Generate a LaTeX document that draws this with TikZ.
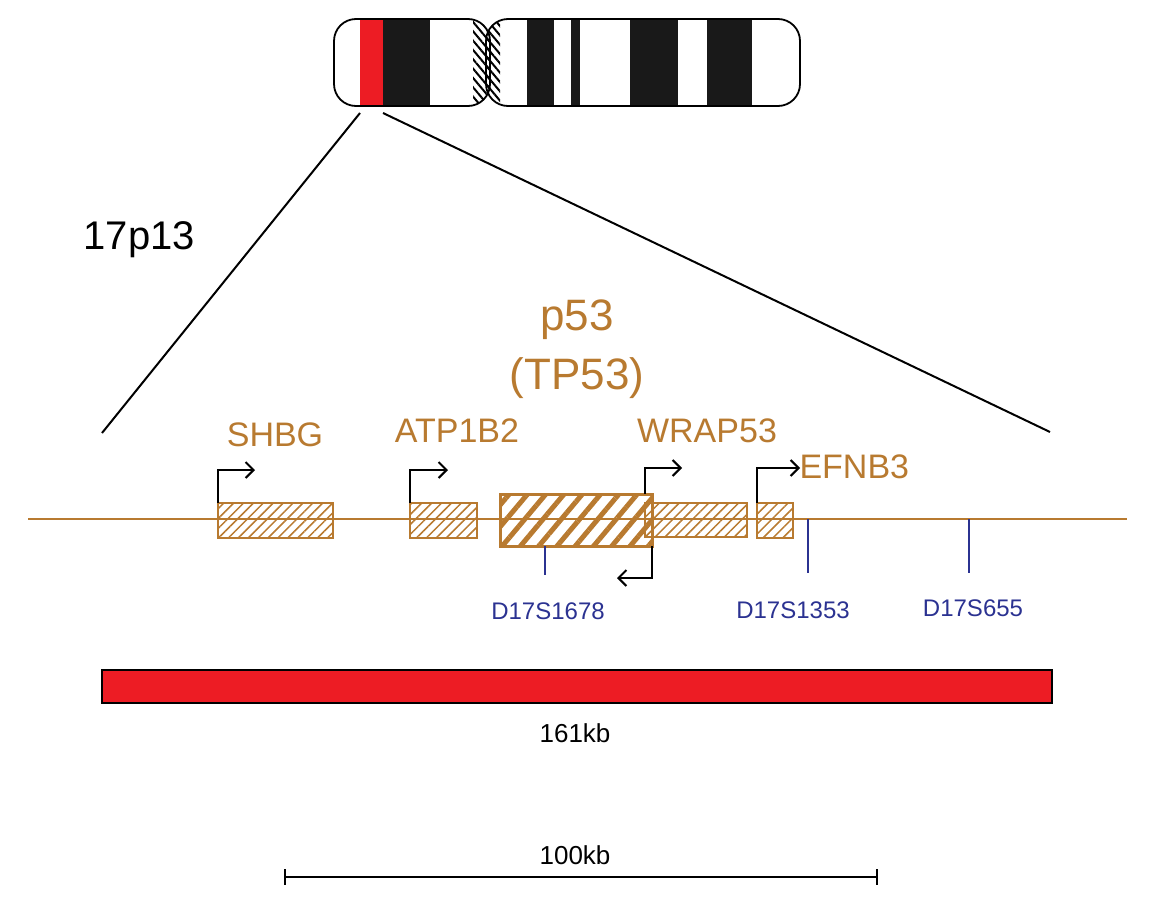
\documentclass[tikz,border=0pt]{standalone}
\usepackage{fontspec}
\setmainfont{Liberation Sans}
\usetikzlibrary{patterns.meta,arrows.meta}
\definecolor{gold}{HTML}{B87A30}
\definecolor{navy}{HTML}{2B3291}
\definecolor{cred}{HTML}{ED1C24}
\begin{document}
\begin{tikzpicture}[x=1pt,y=-1pt,
  gene/.style={draw=gold,line width=2.5pt,pattern={Lines[angle=45,distance=7pt,line width=1.5pt]},pattern color=gold},
  big/.style={draw=gold,line width=3pt,pattern={Lines[angle=50,distance=14pt,line width=5pt]},pattern color=gold},
  tss/.style={black,line width=2pt,-{Straight Barb[length=8pt,width=16pt]}},
  mk/.style={navy,line width=2pt},
  glab/.style={gold,font=\fontsize{34}{38}\selectfont},
  mlab/.style={navy,font=\fontsize{24}{28}\selectfont},
  klab/.style={black,font=\fontsize{26}{30}\selectfont}]
\useasboundingbox (0,0) rectangle (1150,905);
% chromosome
\begin{scope}
\clip[rounded corners=22pt] (334,19) rectangle (490,106);
\fill[cred] (360,19) rectangle (383,106);
\fill[black!90] (383,19) rectangle (430,106);
\fill[pattern={Lines[angle=-50,distance=6pt,line width=2pt]}] (473,19) rectangle (490,106);
\end{scope}
\draw[line width=1.8pt,rounded corners=22pt] (334,19) rectangle (490,106);
\begin{scope}
\clip[rounded corners=22pt] (486,19) rectangle (800,106);
\fill[pattern={Lines[angle=-50,distance=6pt,line width=2pt]}] (486,19) rectangle (500,106);
\fill[black!90] (527,19) rectangle (554,106);
\fill[black!90] (571,19) rectangle (580,106);
\fill[black!90] (630,19) rectangle (678,106);
\fill[black!90] (707,19) rectangle (752,106);
\end{scope}
\draw[line width=1.8pt,rounded corners=22pt] (486,19) rectangle (800,106);
\coordinate (zl) at (360,113); \coordinate (zr) at (383,113);
\coordinate (el) at (102,433); \coordinate (er) at (1050,432);
\draw[line width=2pt] (zl) -- (el);
\draw[line width=2pt] (zr) -- (er);
\node[klab,font=\fontsize{40}{44}\selectfont,anchor=west] (lab17) at (80,240) {17p13};
% gene line
\coordinate (g0) at (28,519); \coordinate (g1) at (1127,519);
\draw[gold,line width=2pt] (g0) -- (g1);
\path[gene] (218,503) rectangle (333,538);
\path[gene] (410,503) rectangle (477,538);
\path[gene] (645,503) rectangle (747,537);
\path[gene] (757,503) rectangle (793,538);
\path[big] (500,494) rectangle (652,546);
\draw[gold,line width=2.5pt] (645,503) rectangle (747,537);
% TSS arrows
\draw[tss] (218,503) |- (255,470);
\draw[tss] (410,503) |- (448,470);
\draw[tss] (645,494) |- (682,468);
\draw[tss] (757,503) |- (800,468);
\draw[tss] (652,546) |- (617,578);
% markers
\draw[mk] (545,546) -- (545,575);
\draw[mk] (808,519) -- (808,573);
\draw[mk] (969,519) -- (969,573);
\node[mlab] (m1) at (548,611) {D17S1678};
\node[mlab] (m2) at (793,610) {D17S1353};
\node[mlab] (m3) at (973,608) {D17S655};
% gene labels
\node[glab] (shbg) at (275,435) {SHBG};
\node[glab] (atp) at (457,431) {ATP1B2};
\node[glab] (wrap) at (707,431) {WRAP53};
\node[glab,anchor=west] (efn) at (796,467) {EFNB3};
\node[glab,font=\fontsize{44}{48}\selectfont] (p53) at (577,320) {p53};
\node[glab,font=\fontsize{44}{48}\selectfont] (tp53) at (577,378) {(TP53)};
% red bar
\draw[fill=cred,line width=2.5pt] (102,670) rectangle (1052,703);
\node[klab] (kb161) at (575,733) {161kb};
% scale bar
\coordinate (s0) at (285,877); \coordinate (s1) at (877,877);
\draw[line width=2pt] (s0) -- (s1);
\draw[line width=2pt] (285,869) -- (285,885) (877,869) -- (877,885);
\node[klab] (kb100) at (575,855) {100kb};
\end{tikzpicture}
\end{document}
